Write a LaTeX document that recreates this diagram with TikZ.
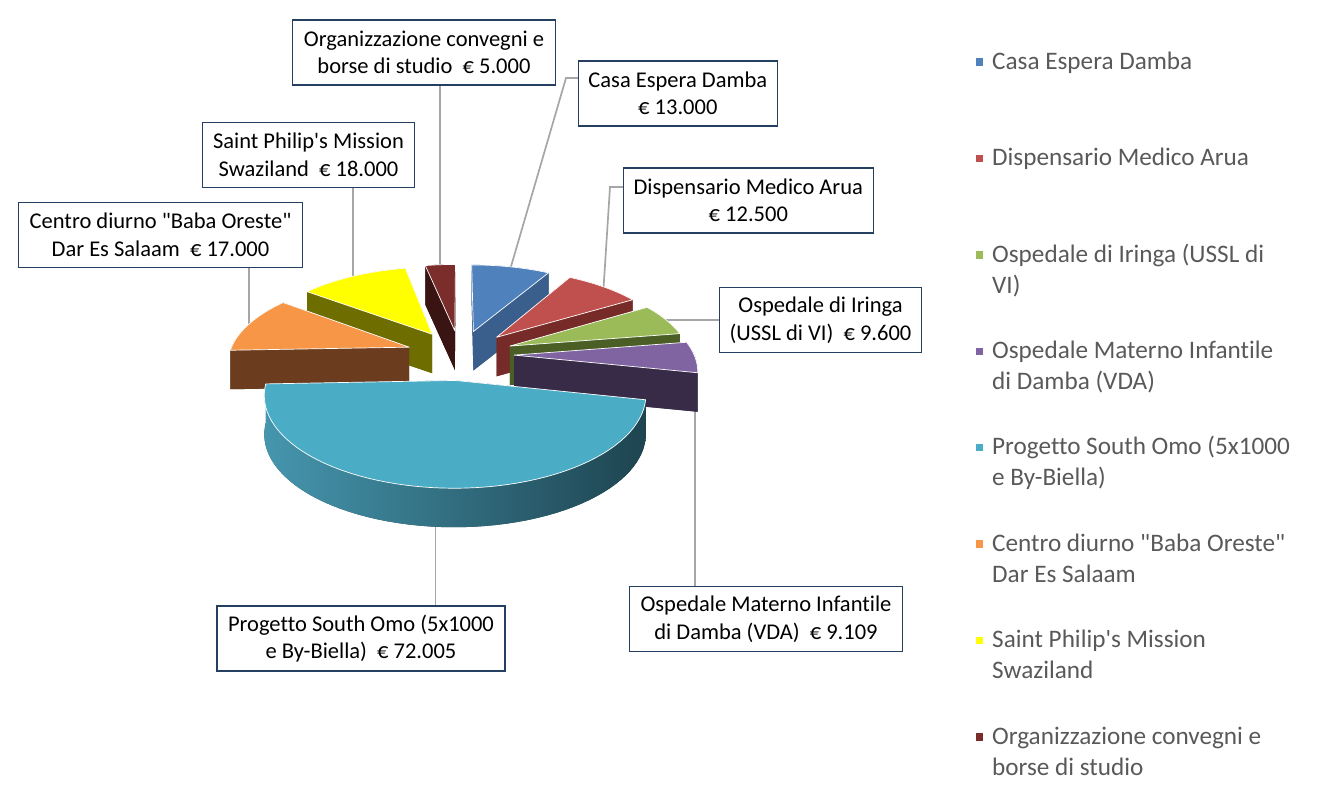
\documentclass[tikz,border=0pt]{standalone}
\usepackage{fontspec}
\setmainfont{Carlito}[Ligatures={NoCommon}]
\definecolor{cBlueT}{HTML}{4F81BD}\definecolor{cBlueS}{HTML}{3A5F8C}
\definecolor{cRedT}{HTML}{C0504D}\definecolor{cRedS}{HTML}{772B29}
\definecolor{cGreenT}{HTML}{9BBB59}\definecolor{cGreenS}{HTML}{4A5E26}
\definecolor{cPurpT}{HTML}{8064A2}\definecolor{cPurpS}{HTML}{372B48}
\definecolor{cCyanT}{HTML}{4BACC6}\definecolor{cCyanL}{HTML}{4596AE}\definecolor{cCyanR}{HTML}{1E4450}
\definecolor{cOrT}{HTML}{F79646}\definecolor{cOrS}{HTML}{6B3C1D}
\definecolor{cYelT}{HTML}{FFFF00}\definecolor{cYelS}{HTML}{6E6E00}
\definecolor{cMarT}{HTML}{7B2D2C}\definecolor{cMarS}{HTML}{3A1313}
\definecolor{cBox}{HTML}{243F60}
\definecolor{cLead}{HTML}{A6A6A6}
\definecolor{cLeg}{HTML}{595959}
\newcommand\PCX{460}\newcommand\PCY{354.5}
\newcommand\PA{180}\newcommand\PB{82.9}\newcommand\PK{0.15}\newcommand\PE{0.30}\newcommand\PH{39}
\pgfmathdeclarefunction{prx}{2}{\pgfmathparse{\PCX+\PA*(#1)/(1+\PK*(#2))}}
\pgfmathdeclarefunction{pry}{1}{\pgfmathparse{\PCY-\PB*(#1)/(1+\PK*(#1))}}
\newcommand\sq{\XeTeXglyph\XeTeXcharglyph"27\relax}
\newcommand\dq{\XeTeXglyph\XeTeXcharglyph"22\relax}
\newcommand\twol[2]{\begin{tabular}[t]{@{}l@{}}#1\\#2\end{tabular}}
% #1 mid angle, #2 start, #3 end, #4 top colour, #5 side colour, #6 band style
\newcommand\pieslice[6]{%
  \pgfmathsetmacro\sEx{\PE*sin(#1)}%
  \pgfmathsetmacro\sEy{\PE*cos(#1)}%
  \pgfmathsetmacro\sAx{prx(\sEx,\sEy)}%
  \pgfmathsetmacro\sAy{pry(\sEy)}%
  \pgfmathsetmacro\sOx{prx(\sEx+sin(#2),\sEy+cos(#2))}%
  \pgfmathsetmacro\sOy{pry(\sEy+cos(#2))}%
  \pgfmathsetmacro\sTx{prx(\sEx+sin(#3),\sEy+cos(#3))}%
  \pgfmathsetmacro\sTy{pry(\sEy+cos(#3))}%
  \fill[#5] (\sAx,\sAy+\PH) -- plot[domain=#2:#3] ({prx(\sEx+sin(\x),\sEy+cos(\x))},{pry(\sEy+cos(\x))+\PH}) -- cycle;
  \fill[#5] (\sAx,\sAy) -- (\sOx,\sOy) -- (\sOx,\sOy+\PH) -- (\sAx,\sAy+\PH) -- cycle;
  \fill[#5] (\sAx,\sAy) -- (\sTx,\sTy) -- (\sTx,\sTy+\PH) -- (\sAx,\sAy+\PH) -- cycle;
  \path[#6] plot[domain=#2:#3] ({prx(\sEx+sin(\x),\sEy+cos(\x))},{pry(\sEy+cos(\x))})
     -- plot[domain=#3:#2] ({prx(\sEx+sin(\x),\sEy+cos(\x))},{pry(\sEy+cos(\x))+\PH}) -- cycle;
  \filldraw[fill=#4, draw=white, line width=0.7pt, line join=round] (\sAx,\sAy)
     -- plot[domain=#2:#3] ({prx(\sEx+sin(\x),\sEy+cos(\x))},{pry(\sEy+cos(\x))}) -- cycle;
}
% rim point of slice with mid angle #2 at angle #3
\newcommand\rimpt[3]{\coordinate (#1) at ({prx(\PE*sin(#2)+sin(#3),\PE*cos(#2)+cos(#3))},{pry(\PE*cos(#2)+cos(#3))});}
\begin{document}
\begin{tikzpicture}[x=1pt,y=-1pt,samples=60,
  lbl/.style={draw=cBox, line width=1.1pt, fill=white, inner sep=0pt, minimum height=65pt,
    align=center, text=black, font=\fontsize{22.5}{27.5}\selectfont},
  leader/.style={draw=cLead, line width=1.7pt},
  leg/.style={anchor=base west, inner sep=0pt, text=cLeg, font=\fontsize{25.2}{31}\selectfont},
  mk/.style={minimum size=7.4pt, inner sep=0pt}]
\useasboundingbox (0,0) rectangle (1318,792);
% leader start points (mid angle of each slice on its rim)
\rimpt{cCasa}{14.98}{14.98}
\rimpt{cDisp}{44.37}{44.37}
\rimpt{cOsp}{69.83}{69.83}
\rimpt{cMat}{91.39}{91.39}
\rimpt{cSO}{184.85}{184.85}
\rimpt{cCen}{287.41}{287.41}
\rimpt{cSai}{327.74}{327.74}
\rimpt{cOrg}{354.24}{354.24}
\coordinate (kCasa) at (566,78);
\coordinate (kDisp) at (610,187);
% label boxes
\node[lbl, minimum width=262.6pt] (org) at (424,52.5) {Organizzazione convegni e\\borse di studio~~€ 5.000};
\node[lbl, minimum width=199pt] (casa) at (677.8,93.5) {Casa Espera Damba\\€ 13.000};
\node[lbl, minimum width=211.6pt] (sai) at (308.5,155) {Saint Philip\sq s Mission\\Swaziland~~€ 18.000};
\node[lbl, minimum width=250pt] (disp) at (748.3,200.5) {Dispensario Medico Arua\\€ 12.500};
\node[lbl, minimum width=284.4pt] (cen) at (160.5,235) {Centro diurno \dq Baba Oreste\dq\\Dar Es Salaam~~€ 17.000};
\node[lbl, minimum width=202.4pt] (osp) at (820.5,320) {Ospedale di Iringa\\(USSL di VI)~~€ 9.600};
\node[lbl, minimum width=288pt] (so) at (361,638.5) {Progetto South Omo (5x1000\\e By-Biella)~~€ 72.005};
\node[lbl, minimum width=273.4pt] (mat) at (766,619) {Ospedale Materno Infantile\\di Damba (VDA)~~€ 9.109};
% leaders
\draw[leader] (cOrg) -- (cOrg |- org.south);
\draw[leader] (cCasa) -- (kCasa) -- (kCasa -| casa.west);
\draw[leader] (cSai) -- (cSai |- sai.south);
\draw[leader] (cDisp) -- (kDisp) -- (kDisp -| disp.west);
\draw[leader] (cCen) -- (cCen |- cen.south);
\draw[leader] (cOsp) -- (cOsp -| osp.west);
\draw[leader] (cMat) -- (cMat |- mat.north);
\draw[leader] (cSO) -- (cSO |- so.north);
% pie slices, back to front
\pieslice{354.24}{348.48}{360}{cMarT}{cMarS}{fill=cMarS}
\pieslice{14.98}{0}{29.96}{cBlueT}{cBlueS}{fill=cBlueS}
\pieslice{327.74}{307.00}{348.48}{cYelT}{cYelS}{fill=cYelS}
\pieslice{44.37}{29.96}{58.77}{cRedT}{cRedS}{fill=cRedS}
\pieslice{69.83}{58.77}{80.89}{cGreenT}{cGreenS}{fill=cGreenS}
\pieslice{287.41}{267.82}{307.00}{cOrT}{cOrS}{fill=cOrS}
\pieslice{91.39}{80.89}{101.88}{cPurpT}{cPurpS}{fill=cPurpS}
\pieslice{184.85}{101.88}{267.82}{cCyanT}{cCyanR}{left color=cCyanL,right color=cCyanR}
% legend
\node[mk, fill=cBlueT] (m1) at (979.7,62) {};
\node[leg] (l1) at (992,69.3) {Casa Espera Damba};
\node[mk, fill=cRedT] (m2) at (979.7,158.4) {};
\node[leg] (l2) at (992,165.7) {Dispensario Medico Arua};
\node[mk, fill=cGreenT] (m3) at (979.7,254.8) {};
\node[leg] (l3) at (992,262.1) {\twol{Ospedale di Iringa (USSL di}{VI)}};
\node[mk, fill=cPurpT] (m4) at (979.7,351.2) {};
\node[leg] (l4) at (992,358.5) {\twol{Ospedale Materno Infantile}{di Damba (VDA)}};
\node[mk, fill=cCyanT] (m5) at (979.7,447.6) {};
\node[leg] (l5) at (992,454.9) {\twol{Progetto South Omo (5x1000}{e By-Biella)}};
\node[mk, fill=cOrT] (m6) at (979.7,544) {};
\node[leg] (l6) at (992,551.3) {\twol{Centro diurno \dq Baba Oreste\dq}{Dar Es Salaam}};
\node[mk, fill=cYelT] (m7) at (979.7,640.4) {};
\node[leg] (l7) at (992,647.7) {\twol{Saint Philip\sq s Mission}{Swaziland}};
\node[mk, fill=cMarT] (m8) at (979.7,736.8) {};
\node[leg] (l8) at (992,744.1) {\twol{Organizzazione convegni e}{borse di studio}};
\end{tikzpicture}
\end{document}
